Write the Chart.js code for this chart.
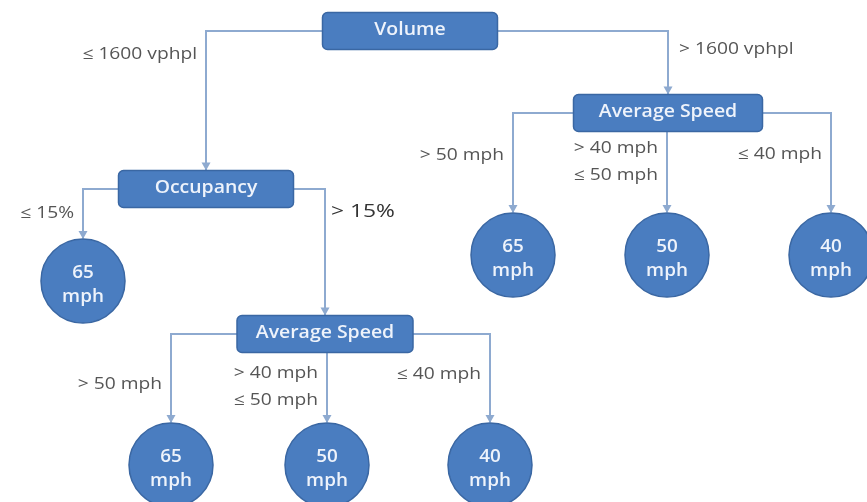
<!DOCTYPE html>
<html>
<head>
<meta charset="utf-8">
<script src="https://cdn.jsdelivr.net/npm/chart.js@4.4.0/dist/chart.umd.min.js"></script>
<style>
  html, body { margin: 0; padding: 0; background: #fff; }
  #wrap { width: 867px; height: 502px; }
</style>
</head>
<body>
<div id="wrap"><canvas id="tree" width="867" height="502"></canvas></div>
<script>
// decision nodes and leaf outcomes
const splitNames = ['Volume', 'Occupancy', 'Average Speed', 'Average Speed'];
const leafSpeeds = [65, 65, 50, 40, 65, 50, 40];
const leafUnit = 'mph';

// branches: parent split -> child ('s' = split, 'l' = leaf, + index)
const branchFrom = [0, 0, 1, 1, 2, 2, 2, 3, 3, 3];
const branchTo = ['s1', 's2', 'l0', 's3', 'l1', 'l2', 'l3', 'l4', 'l5', 'l6'];
const branchLabels = [
  ['≤ 1600 vphpl'], ['> 1600 vphpl'],
  ['≤ 15%'], ['> 15%'],
  ['> 50 mph'], ['> 40 mph', '≤ 50 mph'], ['≤ 40 mph'],
  ['> 50 mph'], ['> 40 mph', '≤ 50 mph'], ['≤ 40 mph']
];

// layout, in diagram units (y grows downwards)
const splitX = [410, 206, 668, 325];
const splitY = [31, 189, 113, 334];
const splitW = [175, 175, 189, 176];
const splitH = 37;
const leafX = [83, 513, 667, 831, 171, 327, 490];
const leafY = [281, 255, 255, 255, 465, 465, 465];
const leafR = 42;
const labelSide = ['left', 'right', 'left', 'right', 'left', 'left', 'left', 'left', 'left', 'left'];
const labelY = [54, 49, 213, 212, 155, 148, 154, 384, 373, 374];

const BLUE = '#4a7dc0';
const BLUE_EDGE = '#3a67a3';
const LINK = '#8eaad0';

function childPos(key) {
  const i = +key.slice(1);
  if (key[0] === 's') return { x: splitX[i], top: splitY[i] - splitH / 2 };
  return { x: leafX[i], top: leafY[i] - leafR };
}

// each branch becomes an elbow line: parent side -> over -> down to child
const branchSets = branchFrom.map((p, i) => {
  const c = childPos(branchTo[i]);
  let pts;
  if (Math.abs(c.x - splitX[p]) < splitW[p] / 2) {
    pts = [{ x: c.x, y: splitY[p] + splitH / 2 }, { x: c.x, y: c.top }];
  } else {
    const sx = c.x < splitX[p] ? splitX[p] - splitW[p] / 2 : splitX[p] + splitW[p] / 2;
    pts = [{ x: sx, y: splitY[p] }, { x: c.x, y: splitY[p] }, { x: c.x, y: c.top }];
  }
  return {
    type: 'line', data: pts, isBranch: true, branch: i,
    borderColor: LINK, borderWidth: 2, pointRadius: 0, tension: 0,
    showLine: true, fill: false, clip: false, order: 3
  };
});

const leafSet = {
  type: 'scatter',
  data: leafX.map((x, i) => ({ x: x, y: leafY[i] })),
  pointStyle: 'circle', pointRadius: leafR,
  backgroundColor: BLUE, borderColor: BLUE_EDGE, borderWidth: 1.5,
  clip: false, order: 1
};

function stretchText(ctx, str, x, y, align, sx) {
  ctx.save();
  ctx.translate(x, y);
  ctx.scale(sx, 1);
  ctx.textAlign = align;
  ctx.fillText(str, 0, 0);
  ctx.restore();
}

function roundRect(ctx, x, y, w, h, r) {
  ctx.beginPath();
  ctx.moveTo(x + r, y);
  ctx.arcTo(x + w, y, x + w, y + h, r);
  ctx.arcTo(x + w, y + h, x, y + h, r);
  ctx.arcTo(x, y + h, x, y, r);
  ctx.arcTo(x, y, x + w, y, r);
  ctx.closePath();
}

const treePlugin = {
  id: 'treePlugin',
  afterDatasetsDraw(chart) {
    const { ctx } = chart;
    const xs = chart.scales.x, ys = chart.scales.y;

    // arrow heads + branch labels
    chart.data.datasets.forEach(ds => {
      if (!ds.isBranch) return;
      const end = ds.data[ds.data.length - 1];
      const px = xs.getPixelForValue(end.x), py = ys.getPixelForValue(end.y);
      ctx.fillStyle = LINK;
      ctx.beginPath();
      ctx.moveTo(px, py);
      ctx.lineTo(px - 4.5, py - 8);
      ctx.lineTo(px + 4.5, py - 8);
      ctx.closePath();
      ctx.fill();

      const b = ds.branch;
      const big = branchLabels[b][0] === '> 15%';
      ctx.font = big ? '19px "Open Sans"' : '16px "Open Sans"';
      ctx.fillStyle = big ? '#333' : '#555';
      ctx.textBaseline = 'middle';
      const left = labelSide[b] === 'left';
      const gx = px + (left ? (big ? -16 : -9) : (big ? 6 : 11));
      branchLabels[b].forEach((t, k) => {
        stretchText(ctx, t, gx, ys.getPixelForValue(labelY[b] + k * 27), left ? 'right' : 'left', 1.2);
      });
    });

    // split boxes
    splitNames.forEach((name, i) => {
      const l = xs.getPixelForValue(splitX[i] - splitW[i] / 2);
      const r = xs.getPixelForValue(splitX[i] + splitW[i] / 2);
      const t = ys.getPixelForValue(splitY[i] - splitH / 2);
      const bt = ys.getPixelForValue(splitY[i] + splitH / 2);
      roundRect(ctx, l, t, r - l, bt - t, 5);
      ctx.fillStyle = BLUE;
      ctx.fill();
      ctx.strokeStyle = BLUE_EDGE;
      ctx.lineWidth = 1.5;
      ctx.stroke();
      ctx.fillStyle = '#eef3fb';
      ctx.font = '600 18px "Open Sans"';
      ctx.textBaseline = 'middle';
      stretchText(ctx, name, (l + r) / 2, ys.getPixelForValue(splitY[i]) - 1, 'center', 1.08);
    });

    // leaf captions
    const meta = chart.getDatasetMeta(chart.data.datasets.indexOf(leafSet));
    meta.data.forEach((pt, i) => {
      ctx.fillStyle = '#eef3fb';
      ctx.font = '600 18px "Open Sans"';
      ctx.textBaseline = 'middle';
      stretchText(ctx, String(leafSpeeds[i]), pt.x, pt.y - 8, 'center', 1.05);
      stretchText(ctx, leafUnit, pt.x, pt.y + 16, 'center', 1.05);
    });
  }
};

new Chart(document.getElementById('tree').getContext('2d'), {
  type: 'scatter',
  data: { datasets: [...branchSets, leafSet] },
  options: {
    responsive: false,
    devicePixelRatio: 1,
    animation: false,
    events: [],
    layout: { padding: 0, autoPadding: false },
    scales: {
      x: { type: 'linear', min: 0, max: 867, display: false },
      y: { type: 'linear', min: 0, max: 502, reverse: true, display: false }
    },
    plugins: { legend: { display: false }, tooltip: { enabled: false } }
  },
  plugins: [treePlugin]
});
</script>
</body>
</html>
